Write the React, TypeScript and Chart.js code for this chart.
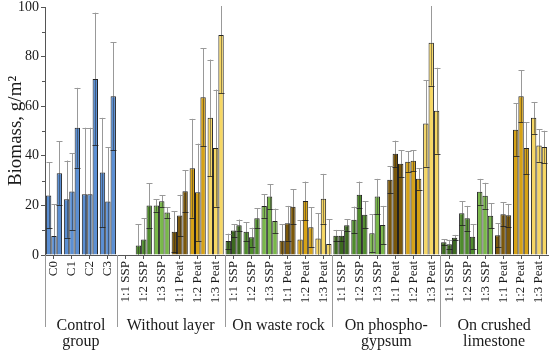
import React, { useEffect, useRef } from "react";
import { Chart, registerables } from "chart.js";

Chart.register(...registerables);

// ---- data ----
const categories = [
  "C0", "C1", "C2", "C3",
  "1:1 SSP", "1:2 SSP", "1:3 SSP", "1:1 Peat", "1:2 Peat", "1:3 Peat",
  "1:1 SSP", "1:2 SSP", "1:3 SSP", "1:1 Peat", "1:2 Peat", "1:3 Peat",
  "1:1 SSP", "1:2 SSP", "1:3 SSP", "1:1 Peat", "1:2 Peat", "1:3 Peat",
  "1:1 SSP", "1:2 SSP", "1:3 SSP", "1:1 Peat", "1:2 Peat", "1:3 Peat",
];

const groupNames = [
  ["Control", "group"],
  ["Without layer"],
  ["On waste rock"],
  ["On phospho-", "gypsum"],
  ["On crushed", "limestone"],
];
const groupSizes = [4, 6, 6, 6, 6];

const yTicks = [0, 20, 40, 60, 80, 100];
const yMinorTicks = [10, 30, 50, 70, 90];

// replicate 1
const rep1Mean = [
  24, 22.5, 24.5, 33.3,
  null, 3.8, 20, 9.4, 35, 55.3,
  5.6, 9.4, 19.8, 5.7, 6.3, 6.7,
  7.8, 14.2, 8.8, 30.3, 37.6, 53,
  5.1, 16.8, 25.5, 8, 50.5, 55.3,
];
const rep1Err = [
  13.3, 15.6, 26.8, 22,
  null, 8.7, 2.5, 8.3, 19.9, 23.5,
  3, 3.8, 4.8, 6.8, 7.8, 10.1,
  2.3, 5.3, 7.6, 5.4, 4.2, 17.4,
  1.2, 4.8, 5.2, 4.8, 10.7, 6.4,
];
// replicate 2
const rep2Mean = [
  7.7, 25.6, 24.5, 21.6,
  null, 6.3, 21.7, 15.9, 25.3, 43.1,
  9.9, 7.2, 23.6, 12.8, 21.8, 22.7,
  7.8, 24.3, 23.6, 40.8, 38, 85.6,
  4.3, 14.8, 23.9, 16.4, 64, 44.2,
];
const rep2Err = [
  12.8, 15.5, 26.8, 21.9,
  null, 8.5, 2.3, 8.4, 19.6, 23.6,
  2.5, 3.8, 5, 7, 7.8, 10,
  2.3, 5.3, 7.1, 5.3, 4.2, 17.3,
  1.8, 5, 5.2, 4.9, 10.5, 6.6,
];
// replicate 3
const rep3Mean = [
  33, 51.3, 71, 64,
  null, 20, 17.1, 25.7, 63.6, 88.7,
  12, 14.8, 13.7, 19.5, 11.2, 4.4,
  12, 16.2, 12.1, 36.8, 30.7, 58.2,
  7, 7.4, 15.8, 16, 43.1, 43.5,
];
const rep3Err = [
  12.8, 16.1, 26.7, 21.8,
  null, 9, 2.2, 8.4, 19.7, 23.5,
  2.3, 4.1, 5, 7, 8.1, 10.1,
  2.5, 5.4, 7.7, 5.4, 4.3, 17.3,
  1.1, 5, 5.1, 4.6, 10.5, 6.6,
];

const controlColor = "#5b8fd3";
const treatmentColors = ["#3d6a20", "#4f8c2c", "#79b84a", "#7b580b", "#d6a216", "#f6d764"];

const FONT = "'Liberation Serif', 'Times New Roman', serif";
const TEXT = "#1a1a1a";

function barColors(): string[] {
  const out: string[] = [];
  for (let i = 0; i < categories.length; i++) {
    if (i < groupSizes[0]) out.push(controlColor);
    else out.push(treatmentColors[(i - groupSizes[0]) % 6]);
  }
  return out;
}

const errorBarPlugin = {
  id: "errorBars",
  afterDatasetsDraw(chart: any) {
    const ctx = chart.ctx;
    const yScale = chart.scales.y;
    const area = chart.chartArea;
    const errs = [rep1Err, rep2Err, rep3Err];
    const means = [rep1Mean, rep2Mean, rep3Mean];
    ctx.save();
    ctx.beginPath();
    ctx.rect(area.left, area.top - 1, area.right - area.left, area.bottom - area.top + 1);
    ctx.clip();
    for (let d = 0; d < 3; d++) {
      const meta = chart.getDatasetMeta(d);
      meta.data.forEach((el: any, j: number) => {
        const m = means[d][j];
        const e = errs[d][j];
        if (m == null || e == null) return;
        const x = Math.round(el.x) + 0.5;
        const yTop = yScale.getPixelForValue(m + e);
        const yMean = yScale.getPixelForValue(m);
        const yLow = yScale.getPixelForValue(m - e);
        ctx.lineWidth = 1;
        ctx.strokeStyle = "#999999";
        ctx.beginPath();
        ctx.moveTo(x, yMean);
        ctx.lineTo(x, yTop);
        ctx.moveTo(x - 3, Math.round(yTop) + 0.5);
        ctx.lineTo(x + 3, Math.round(yTop) + 0.5);
        ctx.stroke();
        ctx.strokeStyle = "rgba(40,40,40,0.5)";
        ctx.beginPath();
        ctx.moveTo(x, yMean);
        ctx.lineTo(x, yLow);
        ctx.stroke();
        ctx.strokeStyle = "rgba(30,30,30,0.8)";
        ctx.beginPath();
        ctx.moveTo(x - 3, Math.round(yLow) + 0.5);
        ctx.lineTo(x + 3, Math.round(yLow) + 0.5);
        ctx.stroke();
      });
    }
    ctx.restore();
  },
};

const groupPlugin = {
  id: "groups",
  afterDraw(chart: any) {
    const ctx = chart.ctx;
    const xScale = chart.scales.x;
    const yScale = chart.scales.y;
    const area = chart.chartArea;
    ctx.save();
    ctx.strokeStyle = "#555";
    ctx.lineWidth = 1;
    yMinorTicks.forEach((v) => {
      const y = Math.round(yScale.getPixelForValue(v)) + 0.5;
      ctx.beginPath();
      ctx.moveTo(area.left - 3, y);
      ctx.lineTo(area.left, y);
      ctx.stroke();
    });
    const half = (xScale.getPixelForValue(1) - xScale.getPixelForValue(0)) / 2;
    let idx = 0;
    const bounds: number[] = [];
    bounds.push(xScale.getPixelForValue(0) - half);
    groupSizes.forEach((n) => {
      idx += n;
      bounds.push(xScale.getPixelForValue(idx - 1) + half);
    });
    ctx.strokeStyle = "#9a9a9a";
    for (let i = 0; i < bounds.length - 1; i++) {
      const x = Math.round(bounds[i]) + 0.5;
      ctx.beginPath();
      ctx.moveTo(x, area.bottom);
      ctx.lineTo(x, area.bottom + 72);
      ctx.stroke();
    }
    ctx.fillStyle = TEXT;
    ctx.font = `16px ${FONT}`;
    ctx.textAlign = "center";
    ctx.textBaseline = "alphabetic";
    groupNames.forEach((lines, g) => {
      const cx = (bounds[g] + bounds[g + 1]) / 2;
      lines.forEach((line, k) => {
        ctx.fillText(line, cx, area.bottom + 75 + k * 16);
      });
    });
    ctx.restore();
  },
};

export default function App() {
  const ref = useRef<HTMLCanvasElement | null>(null);
  useEffect(() => {
    if (!ref.current) return;
    const colors = barColors();
    const ds = (data: (number | null)[]) => ({
      data,
      backgroundColor: colors,
      borderColor: "#222222",
      borderWidth: 1,
      categoryPercentage: 0.9,
      barPercentage: 1.0,
    });
    const chart = new Chart(ref.current, {
      type: "bar",
      data: {
        labels: categories,
        datasets: [ds(rep1Mean), ds(rep2Mean), ds(rep3Mean)],
      },
      options: {
        animation: false,
        responsive: false,
        maintainAspectRatio: false,
        layout: { padding: { top: 0, right: 2, left: 0, bottom: 0 } },
        plugins: { legend: { display: false }, tooltip: { enabled: false } },
        scales: {
          x: {
            grid: { display: true, drawOnChartArea: false, offset: false, tickLength: 4, color: "#555" },
            border: { color: "#555" },
            ticks: {
              autoSkip: false,
              maxRotation: 90,
              minRotation: 90,
              padding: 2,
              color: TEXT,
              font: { family: FONT, size: 13 },
            },
            afterFit: (s: any) => {
              s.height = 97;
              s.paddingLeft = 0;
              s.paddingRight = 0;
            },
          },
          y: {
            min: 0,
            max: 100,
            afterBuildTicks: (s: any) => {
              s.ticks = yTicks.map((v) => ({ value: v }));
            },
            ticks: { padding: 2, color: TEXT, font: { family: FONT, size: 14 } },
            grid: { display: true, drawOnChartArea: false, tickLength: 4, color: "#555" },
            border: { color: "#555" },
            title: {
              display: true,
              text: "Biomass, g/m²",
              color: TEXT,
              font: { family: FONT, size: 19 },
              padding: { top: 5, bottom: 0 },
            },
            afterFit: (s: any) => {
              s.width = 45;
              s.paddingTop = 7;
              s.paddingBottom = 0;
            },
          },
        },
      },
      plugins: [errorBarPlugin, groupPlugin],
    });
    return () => chart.destroy();
  }, []);
  return (
    <div style={{ position: "absolute", left: 0, top: 0, width: 550, height: 352, background: "#fff" }}>
      <canvas ref={ref} width={550} height={352} style={{ width: 550, height: 352 }} />
    </div>
  );
}
